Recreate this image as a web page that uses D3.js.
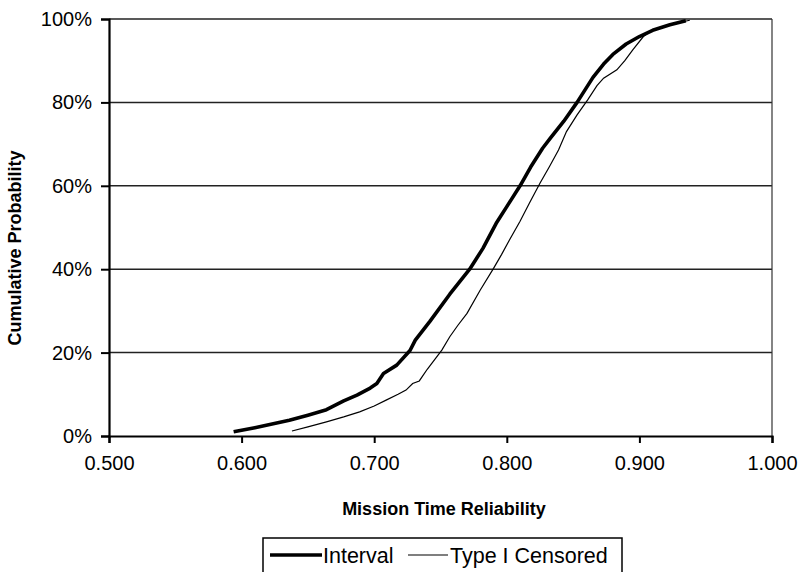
<!DOCTYPE html>
<html>
<head>
<meta charset="utf-8">
<script src="https://cdn.jsdelivr.net/npm/d3@7"></script>
<style>
  body { margin: 0; background: #fff; }
  text { font-family: "Liberation Sans", Arial, sans-serif; fill: #000; }
</style>
</head>
<body>
<div id="chart"></div>
<script>
// Series: mission time reliability vs cumulative probability (%)
var intervalX = [0.594, 0.610, 0.636, 0.650, 0.664, 0.677, 0.687, 0.697, 0.702, 0.707, 0.717, 0.727, 0.731, 0.742, 0.757, 0.772, 0.782, 0.792, 0.800, 0.810, 0.818, 0.827, 0.833, 0.843, 0.853, 0.859, 0.865, 0.873, 0.880, 0.890, 0.900, 0.910, 0.923, 0.935];
var intervalY = [1.0, 2.0, 3.8, 5.0, 6.3, 8.4, 9.8, 11.5, 12.6, 15.0, 17.0, 20.5, 23.0, 27.5, 34.0, 40.0, 45.0, 51.0, 55.0, 60.0, 64.5, 69.0, 71.5, 75.5, 80.0, 83.0, 86.0, 89.2, 91.5, 94.0, 95.8, 97.3, 98.6, 99.6];

var censoredX = [0.638, 0.650, 0.664, 0.677, 0.689, 0.700, 0.709, 0.718, 0.724, 0.729, 0.734, 0.740, 0.746, 0.751, 0.757, 0.763, 0.770, 0.780, 0.790, 0.796, 0.802, 0.810, 0.817, 0.825, 0.832, 0.839, 0.845, 0.853, 0.861, 0.868, 0.873, 0.883, 0.889, 0.895, 0.903, 0.910, 0.923, 0.938];
var censoredY = [1.2, 2.2, 3.4, 4.6, 5.8, 7.2, 8.6, 10.0, 11.0, 12.6, 13.2, 16.0, 18.5, 20.6, 23.8, 26.5, 29.4, 35.0, 40.2, 43.5, 47.0, 51.5, 55.8, 60.6, 64.5, 68.6, 73.0, 77.0, 80.6, 84.0, 85.8, 87.8, 90.0, 92.6, 95.8, 97.4, 98.7, 99.7];

var xTicks = [0.5, 0.6, 0.7, 0.8, 0.9, 1.0];
var yTicks = [0, 20, 40, 60, 80, 100];
var seriesNames = ["Interval", "Type I Censored"];

var width = 805,
    height = 572;
var margin = {top: 19, right: 33, bottom: 136, left: 109};
var w = width - margin.left - margin.right,
    h = height - margin.top - margin.bottom;

var svg = d3.select("#chart")
            .append("svg")
              .attr("width", width)
              .attr("height", height);

var g = svg.append("g")
           .attr("transform", "translate(" + margin.left + "," + margin.top + ")");

var x = d3.scaleLinear().domain([0.5, 1.0]).range([0, w]);
var y = d3.scaleLinear().domain([0, 100]).range([h, 0]);

// Gridlines
g.selectAll(".grid")
  .data(yTicks.slice(1))
  .enter()
  .append("line")
    .attr("x1", 0)
    .attr("x2", w)
    .attr("y1", function(d) { return y(d); })
    .attr("y2", function(d) { return y(d); })
    .attr("stroke", "#222")
    .attr("stroke-width", 1.5);

// Right border
g.append("line")
  .attr("x1", w).attr("x2", w)
  .attr("y1", 0).attr("y2", h)
  .attr("stroke", "#333")
  .attr("stroke-width", 1.2);

// Axes
var xAxis = g.append("g")
  .attr("transform", "translate(0," + h + ")")
  .call(d3.axisBottom(x).tickValues(xTicks).tickFormat(d3.format(".3f")).tickSize(7).tickPadding(13));

var yAxis = g.append("g")
  .call(d3.axisLeft(y).tickValues(yTicks).tickFormat(function(d) { return d + "%"; }).tickSize(8).tickPadding(9));

[xAxis, yAxis].forEach(function(a) {
  a.select(".domain").attr("stroke", "#000").attr("stroke-width", 2.2);
  a.selectAll(".tick line").attr("stroke", "#000").attr("stroke-width", 2);
  a.selectAll("text")
    .style("font-family", "'Liberation Sans', Arial, sans-serif")
    .style("font-size", "20px")
    .attr("fill", "#000");
});

// Lines
var line = d3.line()
  .x(function(d) { return x(d[0]); })
  .y(function(d) { return y(d[1]); });

var intervalData = d3.zip(intervalX, intervalY);
var censoredData = d3.zip(censoredX, censoredY);

g.append("path")
  .datum(censoredData)
  .attr("d", line)
  .attr("fill", "none")
  .attr("stroke", "#000")
  .attr("stroke-width", 1.2);

g.append("path")
  .datum(intervalData)
  .attr("d", line)
  .attr("fill", "none")
  .attr("stroke", "#000")
  .attr("stroke-width", 3.6)
  .attr("stroke-linejoin", "round");

// Axis titles
svg.append("text")
  .attr("x", 444)
  .attr("y", 515)
  .attr("text-anchor", "middle")
  .style("font-size", "18px")
  .style("font-weight", "bold")
  .text("Mission Time Reliability");

svg.append("text")
  .attr("transform", "translate(21,248) rotate(-90)")
  .attr("text-anchor", "middle")
  .style("font-size", "18px")
  .style("font-weight", "bold")
  .text("Cumulative Probability");

// Legend
var legend = svg.append("g");
legend.append("rect")
  .attr("x", 263)
  .attr("y", 538)
  .attr("width", 359)
  .attr("height", 40)
  .attr("fill", "#fff")
  .attr("stroke", "#000")
  .attr("stroke-width", 1.5);

var legendItems = [
  {name: seriesNames[0], x1: 270, x2: 322, tx: 323, sw: 3.6},
  {name: seriesNames[1], x1: 408, x2: 448, tx: 450, sw: 1.2}
];

legendItems.forEach(function(d) {
  legend.append("line")
    .attr("x1", d.x1).attr("x2", d.x2)
    .attr("y1", 555).attr("y2", 555)
    .attr("stroke", "#000")
    .attr("stroke-width", d.sw);
  legend.append("text")
    .attr("x", d.tx)
    .attr("y", 563)
    .style("font-size", "21.5px")
    .text(d.name);
});
</script>
</body>
</html>
